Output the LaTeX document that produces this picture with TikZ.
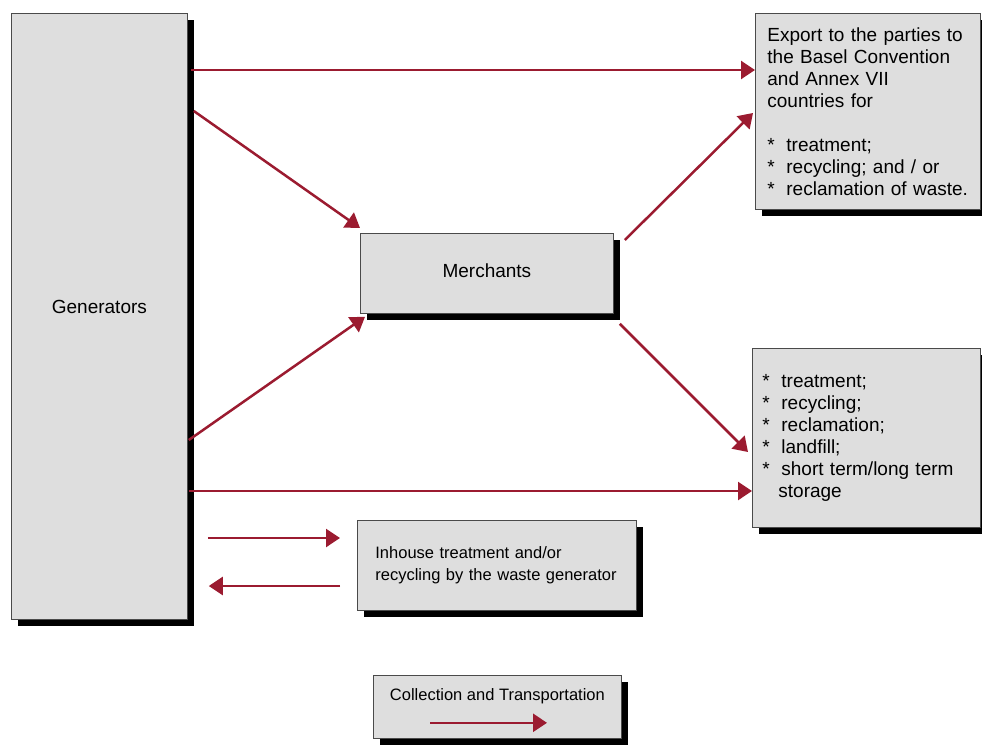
\documentclass[tikz,border=0pt]{standalone}
\usepackage{fontspec}
\setmainfont{Liberation Sans}
\usepackage{tikz}
\usetikzlibrary{arrows.meta, shadows}
\definecolor{flow}{HTML}{9B1B30}
\definecolor{boxbg}{HTML}{DEDEDE}
\definecolor{edge}{HTML}{4A4A4A}
\newcommand{\wasteitem}{\makebox[19pt][l]{*}}

\begin{document}
\begin{tikzpicture}[
    x=1pt, y=-1pt,
    font=\fontsize{19}{22}\selectfont,
    box/.style={draw=edge, line width=0.8pt, fill=boxbg, inner sep=0pt, anchor=north west,
                drop shadow={shadow xshift=7pt, shadow yshift=-7pt, fill=black, opacity=1}},
    small/.style={font=\fontsize{16.5}{22}\selectfont},
    ar/.style={-{Triangle[length=14pt, width=18pt]}, flow, line width=2.5pt}
  ]
    \useasboundingbox (0,0) rectangle (982,744);
    \node[box, minimum width=176pt, minimum height=606pt] (gen) at (11,13)
      {\raisebox{3pt}[0pt][0pt]{Generators}};
    \node[box, minimum width=253pt, minimum height=80pt] (mer) at (360,233)
      {\raisebox{-4pt}[0pt][0pt]{Merchants}};
    \node[box, minimum height=196pt, inner xsep=12pt, text width=201pt, align=left] (exp) at (755,13)
      {Export to the parties to\\ the Basel Convention\\ and Annex VII\\ countries for\\[22pt]
       \wasteitem treatment;\\ \wasteitem recycling; and / or\\ \wasteitem reclamation of waste.};
    \node[box, minimum height=179pt, inner xsep=10pt, text width=208pt, align=left] (low) at (752,348)
      {\wasteitem treatment;\\ \wasteitem recycling;\\ \wasteitem reclamation;\\ \wasteitem landfill;\\
       \wasteitem short term/long term\\ \hspace{16pt}storage};
    \node[box, small, minimum height=90pt, inner xsep=18pt, text width=243pt, align=left] (inh) at (357,520)
      {Inhouse treatment and/or\\ recycling by the waste generator};
    \node[box, small, minimum width=248pt, minimum height=63pt] (col) at (373,675)
      {\raisebox{6.5pt}[0pt][0pt]{Collection and Transportation}};
    \draw[ar] ([shift={(3,57)}]gen.north east) -- ([shift={(0,57)}]exp.north west);
    \draw[ar] ([shift={(6,98)}]gen.north east) -- ([shift={(0,-5)}]mer.north west);
    \draw[ar] ([shift={(1,427)}]gen.north east) -- ([shift={(5,3)}]mer.south west);
    \draw[ar] ([shift={(11,7)}]mer.north east) -- ([shift={(-2,100)}]exp.north west);
    \draw[ar] ([shift={(6,10)}]mer.south east) -- ([shift={(-4,104)}]low.north west);
    \draw[ar] ([shift={(1,478)}]gen.north east) -- ([shift={(0,143)}]low.north west);
    \draw[ar] ([shift={(20,525)}]gen.north east) -- ([shift={(-17,18)}]inh.north west);
    \draw[ar] ([shift={(-17,66)}]inh.north west) -- ([shift={(21,573)}]gen.north east);
    \draw[ar] ([shift={(57,-16)}]col.south west) -- ([shift={(174,-16)}]col.south west);
  \end{tikzpicture}
\end{document}
